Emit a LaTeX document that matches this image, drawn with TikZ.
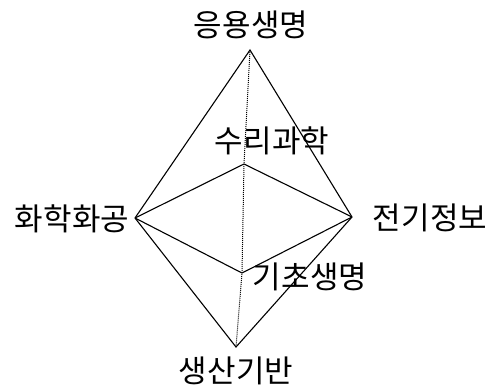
\documentclass[tikz,border=0pt]{standalone}
\usepackage{fontspec}
\usepackage{tikz}
\usetikzlibrary{positioning}
\newfontfamily\korfont{Noto Sans CJK KR}
\tikzset{
  fieldlabel/.style={
    font=\korfont\fontsize{31}{33}\selectfont,
    inner sep=0pt,
    anchor=center
  },
  edgeline/.style={
    draw=black,
    line width=1.1pt,
    line join=miter
  },
  hiddenline/.style={
    draw=black,
    densely dotted,
    line width=1pt
  }
}

\begin{document}
\begin{tikzpicture}[x=1pt,y=-1pt]
    \useasboundingbox (0,0) rectangle (492,387);

    % corners of the double pyramid
    \coordinate (top) at (250,50);
    \coordinate (bottom) at (236,347);
    \coordinate (left) at (135,218);
    \coordinate (right) at (352,217);
    \coordinate (innertop) at (244,164);
    \coordinate (innerbottom) at (242,273);

    % field names
    \node[fieldlabel] (eungyong) at (251,25) {응용생명};
    \node[fieldlabel] (suri) at (272,141) {수리과학};
    \node[fieldlabel] (hwahak) at (72,219) {화학화공};
    \node[fieldlabel] (jeongi) at (430,218) {전기정보};
    \node[fieldlabel] (gicho) at (310,277) {기초생명};
    \node[fieldlabel] (saengsan) at (236,371) {생산기반};

    % outer edges
    \draw[edgeline] (left) -- (top) -- (right);
    \draw[edgeline] (left) -- (bottom) -- (right);

    % middle square
    \draw[edgeline] (left) -- (innertop) -- (right);
    \draw[edgeline] (left) -- (innerbottom) -- (right);

    % vertical axis
    \draw[hiddenline] (top) -- (innertop) -- (innerbottom) -- (bottom);
\end{tikzpicture}
\end{document}
